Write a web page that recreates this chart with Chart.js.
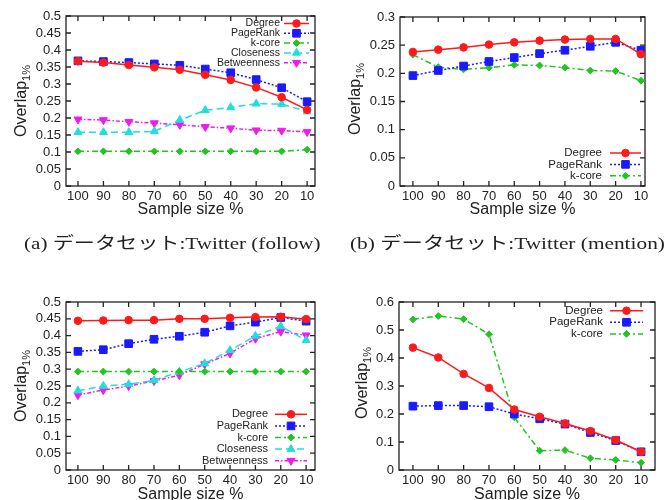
<!DOCTYPE html>
<html>
<head>
<meta charset="utf-8">
<title>Overlap vs sample size</title>
<script src="https://cdn.jsdelivr.net/npm/chart.js@4"></script>
<style>
body { margin:0; width:667px; height:500px; overflow:hidden; background:#fff; position:relative;
       font-family:"Liberation Sans", Arial, sans-serif; }
canvas, .ytitle, .caption { position:absolute; }
.ytitle { font-size:16px; color:#222; white-space:nowrap; transform:translate(-50%,-50%) rotate(-90deg); }
.ytitle sub { font-size:11px; }
.caption { font-family:"Liberation Serif", "Noto Sans CJK JP", serif; font-size:17px; color:#222;
           white-space:nowrap; transform-origin:0 50%; }
</style>
</head>
<body>
<canvas id="c1" width="330" height="226" style="left:0;top:0"></canvas>
<canvas id="c2" width="334" height="226" style="left:333px;top:0"></canvas>
<canvas id="c3" width="330" height="226" style="left:0;top:286px"></canvas>
<canvas id="c4" width="334" height="226" style="left:333px;top:286px"></canvas>

<div class="ytitle" style="left:22px;top:101px">Overlap<sub>1%</sub></div>
<div class="ytitle" style="left:356px;top:99px">Overlap<sub>1%</sub></div>
<div class="ytitle" style="left:22px;top:386px">Overlap<sub>1%</sub></div>
<div class="ytitle" style="left:363px;top:383px">Overlap<sub>1%</sub></div>

<div class="caption" data-w="297" style="left:24px;top:229px">(a) データセット:Twitter (follow)</div>
<div class="caption" data-w="315" style="left:350px;top:229px">(b) データセット:Twitter (mention)</div>

<script>
// x axis: sample size, shown from 100 down to 10
const sampleSize = [100, 90, 80, 70, 60, 50, 40, 30, 20, 10];

const yTicksHalf = [0, 0.05, 0.1, 0.15, 0.2, 0.25, 0.3, 0.35, 0.4, 0.45, 0.5];
const yTicksB    = [0, 0.05, 0.1, 0.15, 0.2, 0.25, 0.3];
const yTicksD    = [0, 0.1, 0.2, 0.3, 0.4, 0.5, 0.6];

// (a) Twitter (follow)
const degreeA      = [0.367, 0.363, 0.356, 0.349, 0.342, 0.327, 0.312, 0.290, 0.261, 0.224];
const pagerankA    = [0.368, 0.366, 0.363, 0.359, 0.355, 0.344, 0.333, 0.313, 0.289, 0.248];
const kcoreA       = [0.102, 0.102, 0.102, 0.102, 0.102, 0.102, 0.102, 0.102, 0.102, 0.107];
const closenessA   = [0.158, 0.158, 0.158, 0.161, 0.194, 0.223, 0.231, 0.242, 0.241, 0.219];
const betweennessA = [0.196, 0.194, 0.189, 0.185, 0.180, 0.174, 0.170, 0.164, 0.163, 0.159];

// (b) Twitter (mention)
const degreeB   = [0.238, 0.242, 0.246, 0.251, 0.255, 0.258, 0.260, 0.261, 0.261, 0.234];
const pagerankB = [0.196, 0.205, 0.213, 0.221, 0.228, 0.235, 0.241, 0.248, 0.255, 0.241];
const kcoreB    = [0.233, 0.211, 0.207, 0.210, 0.215, 0.214, 0.210, 0.205, 0.204, 0.187];

// (c)
const degreeC      = [0.444, 0.445, 0.446, 0.446, 0.450, 0.450, 0.453, 0.455, 0.456, 0.449];
const pagerankC    = [0.353, 0.358, 0.376, 0.389, 0.398, 0.410, 0.429, 0.440, 0.454, 0.443];
const kcoreC       = [0.293, 0.293, 0.293, 0.293, 0.293, 0.293, 0.293, 0.293, 0.293, 0.293];
const closenessC   = [0.236, 0.250, 0.255, 0.267, 0.292, 0.317, 0.356, 0.399, 0.428, 0.386];
const betweennessC = [0.223, 0.238, 0.250, 0.265, 0.282, 0.315, 0.347, 0.391, 0.412, 0.401];

// (d)
const degreeD   = [0.437, 0.402, 0.343, 0.293, 0.216, 0.190, 0.166, 0.139, 0.107, 0.065];
const pagerankD = [0.228, 0.230, 0.230, 0.226, 0.200, 0.183, 0.164, 0.134, 0.105, 0.065];
const kcoreD    = [0.538, 0.550, 0.539, 0.485, 0.188, 0.069, 0.071, 0.042, 0.036, 0.026];

// gnuplot-like line types
const look = {
	'Degree':      {color:'#ff1a1a', dash:[],          point:'circle',   r:3.8, rot:0},
	'PageRank':    {color:'#1a1aff', dash:[2,2],       point:'rect',     r:5.4, rot:0},
	'k-core':      {color:'#22c422', dash:[6,3,2,3],   point:'rectRot',  r:3.4, rot:0},
	'Closeness':   {color:'#22dddd', dash:[7,4],       point:'triangle', r:4.6, rot:0},
	'Betweenness': {color:'#f01af0', dash:[4,2,1.5,2], point:'triangle', r:4.6, rot:180}
};

Chart.defaults.font.family = '"Liberation Sans", Arial, sans-serif';
Chart.defaults.color = '#222';

// border box with inward ticks on all four sides
const frame = {
	id: 'frame',
	beforeDatasetsDraw(chart) {
		const {ctx, chartArea: a, scales: {x, y}} = chart;
		const t = 5;
		ctx.save();
		ctx.strokeStyle = '#222';
		ctx.lineWidth = 1.3;
		ctx.strokeRect(a.left, a.top, a.right - a.left, a.bottom - a.top);
		ctx.beginPath();
		x.ticks.forEach(tk => {
			const px = x.getPixelForValue(tk.value);
			ctx.moveTo(px, a.bottom); ctx.lineTo(px, a.bottom - t);
			ctx.moveTo(px, a.top);    ctx.lineTo(px, a.top + t);
		});
		y.ticks.forEach(tk => {
			const py = y.getPixelForValue(tk.value);
			ctx.moveTo(a.left, py);  ctx.lineTo(a.left + t, py);
			ctx.moveTo(a.right, py); ctx.lineTo(a.right - t, py);
		});
		ctx.stroke();
		ctx.restore();
	}
};

// key: label on the left, line sample with marker on the right
const keyBox = {
	id: 'keyBox',
	afterDatasetsDraw(chart, args, o) {
		const ctx = chart.ctx;
		ctx.save();
		ctx.font = o.size + 'px "Liberation Sans", Arial, sans-serif';
		ctx.textAlign = 'right';
		ctx.textBaseline = 'middle';
		chart.data.datasets.forEach((ds, i) => {
			const yy = o.top + i * o.gap;
			ctx.fillStyle = '#222';
			ctx.fillText(ds.label, o.right, yy);
			ctx.strokeStyle = ds.borderColor;
			ctx.lineWidth = ds.borderWidth;
			ctx.setLineDash(ds.borderDash);
			ctx.beginPath();
			ctx.moveTo(o.from, yy);
			ctx.lineTo(o.to, yy);
			ctx.stroke();
			ctx.setLineDash([]);
			ctx.fillStyle = ds.pointBackgroundColor;
			ctx.strokeStyle = ds.pointBorderColor;
			ctx.lineWidth = 1;
			Chart.helpers.drawPoint(ctx, {pointStyle: ds.pointStyle, rotation: ds.pointRotation,
				radius: ds.pointRadius, borderWidth: 1}, (o.from + o.to) / 2, yy);
		});
		ctx.restore();
	}
};

function panel(id, box, yTicks, series, key) {
	return new Chart(document.getElementById(id), {
		type: 'line',
		data: {
			datasets: series.map(([name, vals]) => {
				const s = look[name];
				return {
					label: name,
					data: sampleSize.map((v, i) => ({x: v, y: vals[i]})),
					borderColor: s.color, backgroundColor: s.color,
					pointBackgroundColor: s.color, pointBorderColor: s.color,
					borderWidth: 1.5, borderDash: s.dash,
					pointStyle: s.point, pointRadius: s.r, pointRotation: s.rot, pointBorderWidth: 1,
					tension: 0, fill: false
				};
			})
		},
		options: {
			responsive: false,
			animation: false,
			events: [],
			layout: {padding: {left: 0, top: box.top, right: box.right, bottom: 0}},
			plugins: {legend: {display: false}, tooltip: {enabled: false}, keyBox: key},
			scales: {
				x: {
					type: 'linear', reverse: true, min: box.xmin, max: box.xmax,
					grid: {display: false, drawTicks: false}, border: {display: false},
					afterBuildTicks: s => { s.ticks = sampleSize.map(v => ({value: v})); },
					afterFit: s => { s.height = box.xh; },
					ticks: {font: {size: 13}, padding: 3, maxRotation: 0, autoSkip: false,
						callback: v => String(v)},
					title: {display: true, text: 'Sample size %', font: {size: 16},
						padding: {top: 0, bottom: box.tpad}}
				},
				y: {
					type: 'linear', min: yTicks[0], max: yTicks[yTicks.length - 1],
					grid: {display: false, drawTicks: false}, border: {display: false},
					afterBuildTicks: s => { s.ticks = yTicks.map(v => ({value: v})); },
					afterFit: s => { s.width = box.yw; },
					ticks: {font: {size: 13}, padding: 5, autoSkip: false,
						callback: v => String(+v.toFixed(2))}
				}
			}
		},
		plugins: [frame, keyBox]
	});
}

panel('c1', {top: 16, right: 15, yw: 66, xh: 40, tpad: 6.6, xmin: 6.9, xmax: 104.7}, yTicksHalf,
	[['Degree', degreeA], ['PageRank', pagerankA], ['k-core', kcoreA], ['Closeness', closenessA], ['Betweenness', betweennessA]],
	{right: 280, top: 23.5, gap: 9.8, from: 284, to: 309, size: 10.5});

panel('c2', {top: 17, right: 22, yw: 67, xh: 40, tpad: 6.6, xmin: 8.4, xmax: 105.1}, yTicksB,
	[['Degree', degreeB], ['PageRank', pagerankB], ['k-core', kcoreB]],
	{right: 269, top: 153, gap: 11.4, from: 277, to: 308, size: 11.5});

panel('c3', {top: 16, right: 15, yw: 66, xh: 42, tpad: 8, xmin: 6.5, xmax: 104.7}, yTicksHalf,
	[['Degree', degreeC], ['PageRank', pagerankC], ['k-core', kcoreC], ['Closeness', closenessC], ['Betweenness', betweennessC]],
	{right: 268, top: 128.3, gap: 11.6, from: 275, to: 307, size: 11});

panel('c4', {top: 16, right: 12, yw: 66, xh: 42, tpad: 8, xmin: 4.5, xmax: 105.5}, yTicksD,
	[['Degree', degreeD], ['PageRank', pagerankD], ['k-core', kcoreD]],
	{right: 270, top: 24.7, gap: 11.6, from: 277, to: 310, size: 11.5});

// stretch captions to the width they have in the figure
document.querySelectorAll('.caption').forEach(c => {
	c.style.transform = 'scaleX(' + (c.dataset.w / c.offsetWidth) + ')';
});
</script>
</body>
</html>
